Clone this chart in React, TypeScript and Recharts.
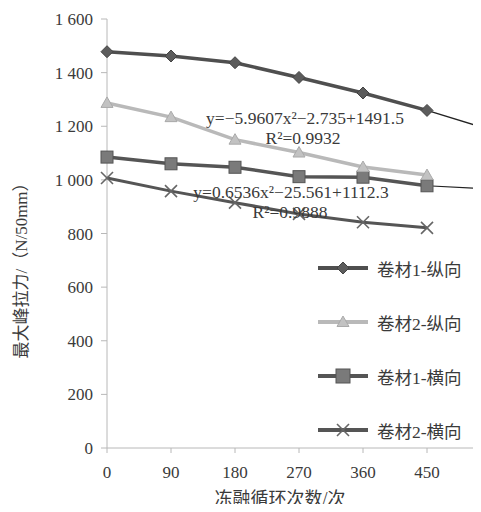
import React from 'react';
import { Line, LineChart, XAxis, YAxis } from 'recharts';

const cycles = [0, 90, 180, 270, 360, 450];
const yTicks = [0, 200, 400, 600, 800, 1000, 1200, 1400, 1600];
const sheet1Long = [1478, 1462, 1437, 1382, 1324, 1259];
const sheet2Long = [1287, 1234, 1150, 1102, 1048, 1018];
const sheet1Trans = [1085, 1060, 1047, 1012, 1010, 978];
const sheet2Trans = [1007, 958, 915, 873, 842, 821];
// trendline forecast beyond the last cycle
const trendEndCycle = 540;
const trend1End = 1186;
const trend3End = 966;

const seriesNames = ['卷材1-纵向', '卷材2-纵向', '卷材1-横向', '卷材2-横向'];

const last = cycles.length - 1;
const rows: Array<Record<string, number | undefined>> = cycles.map((c, i) => ({
  cycle: c,
  s1: sheet1Long[i],
  s2: sheet2Long[i],
  s3: sheet1Trans[i],
  s4: sheet2Trans[i],
  t1: i === last ? sheet1Long[i] : undefined,
  t3: i === last ? sheet1Trans[i] : undefined,
}));
rows.push({ cycle: trendEndCycle, t1: trend1End, t3: trend3End });

const font = "'Liberation Serif', 'Noto Sans CJK SC', serif";
const textColor = '#3a3a3a';
const axisColor = '#b8b8b8';
const dark = '#4f4f4f';
const light = '#b9b9b9';

const fmtY = (v: number) => (v >= 1000 ? `${Math.floor(v / 1000)} ${String(v % 1000).padStart(3, '0')}` : String(v));

function Diamond({ cx, cy, r = 6 }: any) {
  if (cx == null || cy == null) return null;
  return <polygon points={`${cx},${cy - r} ${cx + r},${cy} ${cx},${cy + r} ${cx - r},${cy}`} fill="#5c5c5c" stroke="#444" strokeWidth={1} />;
}
function Triangle({ cx, cy, r = 6 }: any) {
  if (cx == null || cy == null) return null;
  return <polygon points={`${cx},${cy - r} ${cx + r},${cy + r * 0.75} ${cx - r},${cy + r * 0.75}`} fill="#c2c2c2" stroke="#aaa" strokeWidth={1} />;
}
function Square({ cx, cy, r = 6 }: any) {
  if (cx == null || cy == null) return null;
  return <rect x={cx - r} y={cy - r} width={r * 2} height={r * 2} fill="#7a7a7a" stroke="#555" strokeWidth={1} />;
}
function Cross({ cx, cy, r = 6 }: any) {
  if (cx == null || cy == null) return null;
  return (
    <g stroke="#666" strokeWidth={1.6}>
      <line x1={cx - r} y1={cy - r} x2={cx + r} y2={cy + r} />
      <line x1={cx - r} y1={cy + r} x2={cx + r} y2={cy - r} />
    </g>
  );
}

const markers = [Diamond, Triangle, Square, Cross];
const lineColors = [dark, light, '#555', '#555'];

function LegendBox() {
  return (
    <div style={{ position: 'absolute', left: 318, top: 258, fontFamily: font, fontSize: 17.5, color: textColor }}>
      {seriesNames.map((name, i) => {
        const M = markers[i];
        return (
          <div key={name} style={{ display: 'flex', alignItems: 'center', height: 20, marginBottom: 34 }}>
            <svg width={52} height={20}>
              <line x1={0} y1={10} x2={50} y2={10} stroke={lineColors[i]} strokeWidth={4} />
              <M cx={25} cy={10} r={i === 2 ? 7 : 6} />
            </svg>
            <span style={{ marginLeft: 7 }}>{name}</span>
          </div>
        );
      })}
    </div>
  );
}

const noteStyle: React.CSSProperties = {
  position: 'absolute',
  fontFamily: font,
  fontSize: 17.5,
  color: textColor,
  whiteSpace: 'nowrap',
  transform: 'translate(-50%, -50%)',
};

export default function App() {
  return (
    <div style={{ position: 'relative', margin: -8, width: 481, height: 512, overflow: 'hidden', background: '#fff' }}>
      <LineChart width={500} height={512} data={rows} margin={{ top: 19, right: 9, left: 0, bottom: 0 }}>
        <XAxis
          dataKey="cycle"
          type="number"
          domain={[0, 540]}
          ticks={cycles}
          stroke={axisColor}
          tickSize={5}
          tickMargin={13}
          height={64}
          tick={{ fill: textColor, fontSize: 17, fontFamily: font }}
          label={{ value: '冻融循环次数/次', position: 'insideBottom', offset: 7, dx: -19, fill: textColor, fontSize: 18, fontFamily: font }}
        />
        <YAxis
          type="number"
          domain={[0, 1600]}
          ticks={yTicks}
          tickFormatter={fmtY}
          stroke={axisColor}
          tickSize={6}
          tickMargin={8}
          width={107}
          tick={{ fill: textColor, fontSize: 17, fontFamily: font }}
          label={{
            content: ({ viewBox }: any) => {
              const x = viewBox.x + 21;
              const y = viewBox.y + viewBox.height / 2 + 33;
              return (
                <text x={x} y={y} transform={`rotate(-90, ${x}, ${y})`} textAnchor="middle" dominantBaseline="central" fill={textColor} fontSize={17} fontFamily={font}>
                  最大峰拉力/（N/50mm）
                </text>
              );
            },
          }}
        />
        <Line dataKey="t1" stroke="#222" strokeWidth={1.2} dot={false} isAnimationActive={false} />
        <Line dataKey="t3" stroke="#222" strokeWidth={1.2} dot={false} isAnimationActive={false} />
        <Line dataKey="s4" stroke="#555" strokeWidth={3} dot={(p: any) => <Cross key={`d4-${p.index}`} cx={p.cx} cy={p.cy} />} isAnimationActive={false} />
        <Line dataKey="s3" stroke="#555" strokeWidth={3.5} dot={(p: any) => <Square key={`d3-${p.index}`} cx={p.cx} cy={p.cy} />} isAnimationActive={false} />
        <Line dataKey="s2" stroke={light} strokeWidth={3.5} dot={(p: any) => <Triangle key={`d2-${p.index}`} cx={p.cx} cy={p.cy} />} isAnimationActive={false} />
        <Line dataKey="s1" stroke={dark} strokeWidth={3.5} dot={(p: any) => <Diamond key={`d1-${p.index}`} cx={p.cx} cy={p.cy} />} isAnimationActive={false} />
      </LineChart>
      <div style={{ ...noteStyle, left: 305, top: 118 }}>y=−5.9607x²−2.735+1491.5</div>
      <div style={{ ...noteStyle, left: 303, top: 138 }}>R²=0.9932</div>
      <div style={{ ...noteStyle, left: 291, top: 192 }}>y=0.6536x²−25.561+1112.3</div>
      <div style={{ ...noteStyle, left: 290, top: 212 }}>R²=0.9888</div>
      <LegendBox />
    </div>
  );
}
